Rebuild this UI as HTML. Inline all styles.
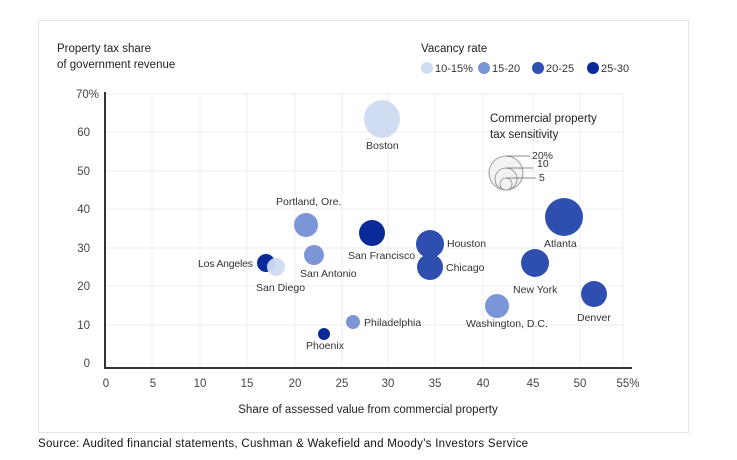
<!DOCTYPE html>
<html><head><style>
body{margin:0;background:#fff;}
svg{display:block;font-family:"Liberation Sans",sans-serif;}
</style></head><body>
<svg width="737" height="460" viewBox="0 0 737 460">
<rect x="38.5" y="20.5" width="650" height="412" fill="#fff" stroke="#e4e4e4"/>
<g fill="#222" font-size="11.5">
<text x="57" y="52">Property tax share</text>
<text x="57" y="68">of government revenue</text>
<text x="421" y="52">Vacancy rate</text>
</g>
<g font-size="11" fill="#333">
<circle cx="427" cy="68" r="6" fill="#cfdcf1"/><text x="435" y="72">10-15%</text>
<circle cx="484" cy="68" r="6" fill="#7b95d6"/><text x="492" y="72">15-20</text>
<circle cx="538" cy="68" r="6" fill="#2f4fb0"/><text x="546" y="72">20-25</text>
<circle cx="593" cy="68" r="6" fill="#0a2a99"/><text x="601" y="72">25-30</text>
</g>
<g stroke="#ececec" stroke-width="1">
<line x1="105" y1="94" x2="623" y2="94"/><line x1="105" y1="132" x2="623" y2="132"/><line x1="105" y1="171" x2="623" y2="171"/><line x1="105" y1="209" x2="623" y2="209"/><line x1="105" y1="248" x2="623" y2="248"/><line x1="105" y1="286" x2="623" y2="286"/><line x1="105" y1="325" x2="623" y2="325"/>
<line x1="152" y1="94" x2="152" y2="368"/><line x1="200" y1="94" x2="200" y2="368"/><line x1="247" y1="94" x2="247" y2="368"/><line x1="295" y1="94" x2="295" y2="368"/><line x1="342" y1="94" x2="342" y2="368"/><line x1="388" y1="94" x2="388" y2="368"/><line x1="435" y1="94" x2="435" y2="368"/><line x1="483" y1="94" x2="483" y2="368"/><line x1="533" y1="94" x2="533" y2="368"/><line x1="580" y1="94" x2="580" y2="368"/><line x1="623" y1="94" x2="623" y2="368"/>
</g>
<line x1="105" y1="92" x2="105" y2="369" stroke="#333" stroke-width="2"/>
<line x1="104" y1="368" x2="632" y2="368" stroke="#333" stroke-width="2"/>
<g font-size="11.5" fill="#444" text-anchor="end">
<text x="99" y="98">70%</text><text x="90" y="136">60</text><text x="90" y="175">50</text><text x="90" y="213">40</text><text x="90" y="252">30</text><text x="90" y="290">20</text><text x="90" y="329">10</text><text x="90" y="367">0</text>
</g>
<g font-size="11.5" fill="#444" text-anchor="middle">
<text x="106" y="387">0</text><text x="153" y="387">5</text><text x="200" y="387">10</text><text x="247" y="387">15</text><text x="295" y="387">20</text><text x="342" y="387">25</text><text x="388" y="387">30</text><text x="435" y="387">35</text><text x="483" y="387">40</text><text x="533" y="387">45</text><text x="580" y="387">50</text><text x="628" y="387">55%</text>
<text x="368" y="413" fill="#222" font-size="11.5">Share of assessed value from commercial property</text>
</g>
<g font-size="11.5" fill="#222"><text x="490" y="122">Commercial property</text><text x="490" y="138">tax sensitivity</text></g>
<g fill="#f2f2f2" stroke="#888" stroke-width="0.8">
<circle cx="506" cy="173" r="17"/><circle cx="506" cy="179" r="11"/><circle cx="506" cy="184" r="6"/>
</g>
<g stroke="#666" stroke-width="0.8"><line x1="506" y1="156" x2="530" y2="156"/><line x1="506" y1="168" x2="533" y2="168"/><line x1="506" y1="178" x2="536" y2="178"/></g>
<g font-size="10.5" fill="#333"><text x="532" y="159">20%</text><text x="537" y="167">10</text><text x="539" y="181">5</text></g>
<g>
<ellipse cx="382" cy="119" rx="18" ry="19" fill="#cfdcf1"/>
<circle cx="564" cy="217" r="19" fill="#2f4fb0"/>
<circle cx="306" cy="225" r="12" fill="#7b95d6"/>
<circle cx="372" cy="233" r="13" fill="#0a2a99"/>
<circle cx="430" cy="244" r="14" fill="#2f4fb0"/>
<circle cx="430" cy="267" r="13" fill="#2f4fb0"/>
<circle cx="535" cy="263" r="14" fill="#2f4fb0"/>
<circle cx="314" cy="255" r="10" fill="#7b95d6"/>
<circle cx="266" cy="263" r="9" fill="#0a2a99"/>
<circle cx="276" cy="267" r="9" fill="#cfdcf1" opacity="0.95"/>
<circle cx="594" cy="294" r="13" fill="#2f4fb0"/>
<circle cx="497" cy="306" r="12" fill="#7b95d6"/>
<circle cx="353" cy="322" r="7" fill="#7b95d6"/>
<circle cx="324" cy="334" r="6" fill="#0a2a99"/>
</g>
<g font-size="10.5" fill="#333">
<text x="366" y="149">Boston</text>
<text x="276" y="205">Portland, Ore.</text>
<text x="544" y="247">Atlanta</text>
<text x="348" y="259">San Francisco</text>
<text x="447" y="247">Houston</text>
<text x="446" y="271">Chicago</text>
<text x="513" y="293">New York</text>
<text x="300" y="277">San Antonio</text>
<text x="198" y="267" textLength="55">Los Angeles</text>
<text x="256" y="291">San Diego</text>
<text x="577" y="321">Denver</text>
<text x="466" y="327">Washington, D.C.</text>
<text x="364" y="326">Philadelphia</text>
<text x="306" y="349">Phoenix</text>
</g>
<text x="38" y="447" font-size="11.5" fill="#111" textLength="490">Source: Audited financial statements, Cushman &amp; Wakefield and Moody's Investors Service</text>
</svg>
</body></html>
